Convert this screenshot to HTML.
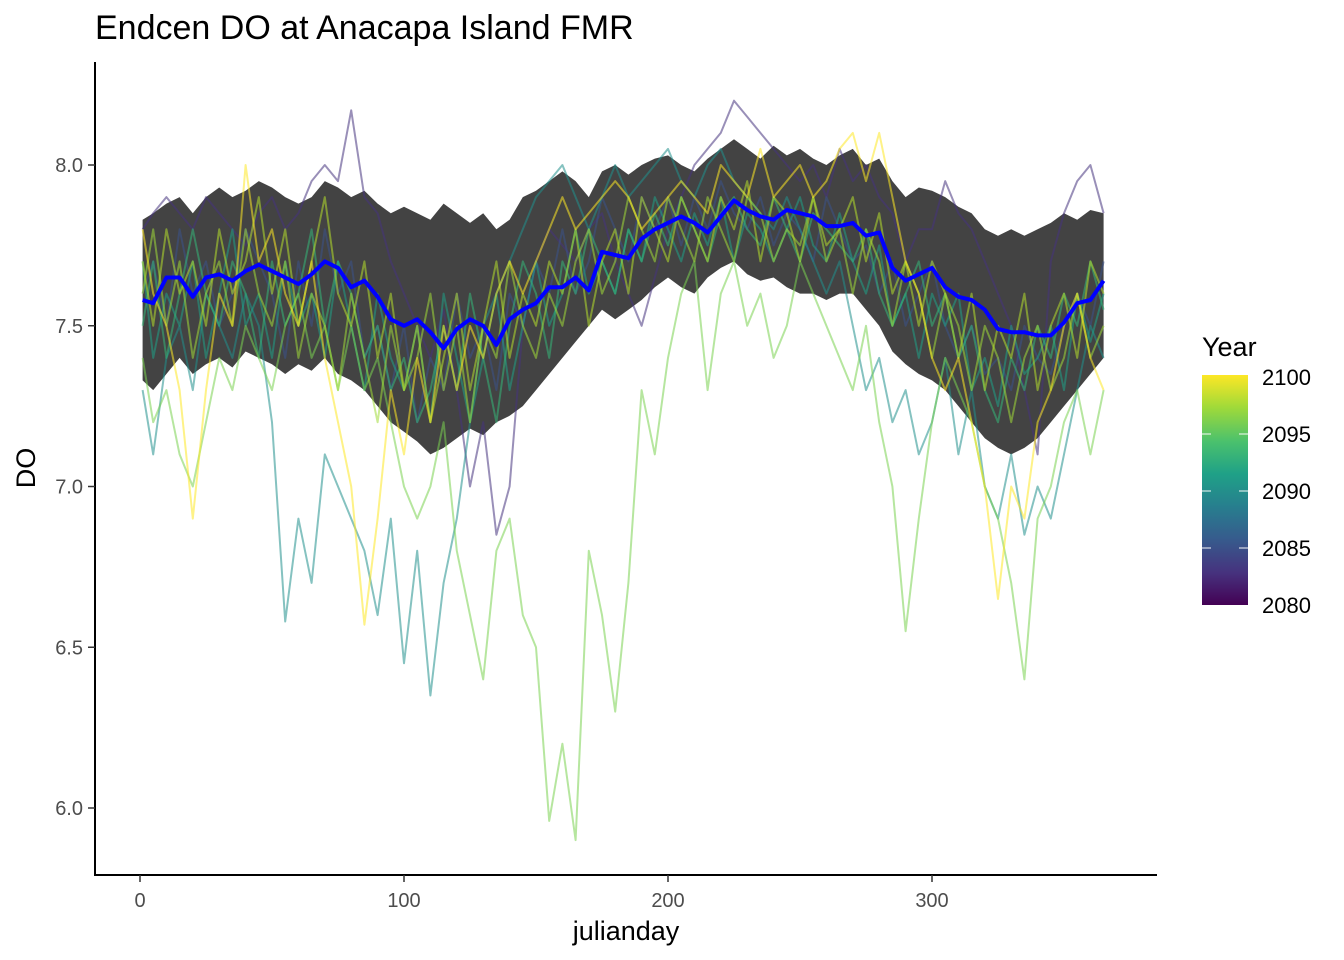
<!DOCTYPE html>
<html><head><meta charset="utf-8">
<style>
html,body{margin:0;padding:0;background:#fff;}
svg{display:block;font-family:"Liberation Sans",Arial,sans-serif;}
</style></head>
<body>
<svg id="chart" width="1344" height="960" viewBox="0 0 1344 960">
<defs>
<linearGradient id="vir" x1="0" y1="1" x2="0" y2="0">
<stop offset="0" stop-color="#440154"/><stop offset="0.14" stop-color="#46327e"/>
<stop offset="0.29" stop-color="#365c8d"/><stop offset="0.43" stop-color="#277f8e"/>
<stop offset="0.57" stop-color="#1fa187"/><stop offset="0.71" stop-color="#4ac16d"/>
<stop offset="0.86" stop-color="#a0da39"/><stop offset="1" stop-color="#fde725"/>
</linearGradient>
</defs>
<text x="95" y="39" font-size="34" fill="#000">Endcen DO at Anacapa Island FMR</text>
<g id="plot"></g>
<g id="axes"></g>
<text x="626" y="940" font-size="27" text-anchor="middle">julianday</text>
<text transform="translate(35,468) rotate(-90)" font-size="27" text-anchor="middle">DO</text>
<g>
<text x="1202" y="356" font-size="27">Year</text>
<rect x="1202" y="375" width="46" height="230" fill="url(#vir)"/>
<g stroke="#fff" stroke-width="1.2" opacity="0.8">
<line x1="1202" y1="434" x2="1211" y2="434"/><line x1="1239" y1="434" x2="1248" y2="434"/>
<line x1="1202" y1="491" x2="1211" y2="491"/><line x1="1239" y1="491" x2="1248" y2="491"/>
<line x1="1202" y1="548" x2="1211" y2="548"/><line x1="1239" y1="548" x2="1248" y2="548"/>
</g>
<g font-size="22" fill="#000">
<text x="1262" y="385">2100</text>
<text x="1262" y="442">2095</text>
<text x="1262" y="499">2090</text>
<text x="1262" y="556">2085</text>
<text x="1262" y="613">2080</text>
</g>
</g>
</svg>
<script>
const xTicks=[0,100,200,300];
const yTicks=[6.0,6.5,7.0,7.5,8.0];
const days=[1];for(let d=5;d<=365;d+=5)days.push(d);
const meanDO=[7.58,7.57,7.65,7.65,7.59,7.65,7.66,7.64,7.67,7.69,7.67,7.65,7.63,7.66,7.70,7.68,7.62,7.64,7.59,7.52,7.50,7.52,7.48,7.43,7.49,7.52,7.50,7.44,7.52,7.55,7.57,7.62,7.62,7.65,7.61,7.73,7.72,7.71,7.77,7.80,7.82,7.84,7.82,7.79,7.84,7.89,7.86,7.84,7.83,7.86,7.85,7.84,7.81,7.81,7.82,7.78,7.79,7.68,7.64,7.66,7.68,7.62,7.59,7.58,7.55,7.49,7.48,7.48,7.47,7.47,7.51,7.57,7.58,7.64];
const ribbonHi=[7.83,7.85,7.88,7.9,7.85,7.9,7.93,7.9,7.92,7.95,7.93,7.9,7.88,7.9,7.95,7.93,7.9,7.92,7.88,7.85,7.87,7.85,7.83,7.88,7.85,7.82,7.85,7.8,7.83,7.9,7.92,7.95,7.98,7.95,7.9,7.98,8.0,7.97,8.0,8.02,8.03,8.0,7.98,8.02,8.05,8.08,8.05,8.02,8.06,8.03,8.05,8.02,8.0,8.03,8.05,8.0,8.02,7.95,7.9,7.93,7.92,7.9,7.87,7.85,7.8,7.78,7.8,7.78,7.8,7.82,7.85,7.83,7.86,7.85];
const ribbonLo=[7.33,7.3,7.35,7.4,7.35,7.38,7.4,7.37,7.42,7.4,7.38,7.35,7.38,7.36,7.4,7.35,7.33,7.3,7.25,7.2,7.17,7.14,7.1,7.12,7.15,7.18,7.16,7.2,7.22,7.25,7.3,7.35,7.4,7.45,7.5,7.55,7.52,7.55,7.58,7.62,7.65,7.62,7.6,7.65,7.68,7.7,7.66,7.64,7.65,7.62,7.6,7.6,7.58,7.6,7.6,7.55,7.5,7.42,7.38,7.35,7.33,7.3,7.25,7.2,7.15,7.12,7.1,7.12,7.15,7.2,7.25,7.3,7.35,7.4];
const y2082=[7.8,7.85,7.9,7.85,7.8,7.9,7.85,7.8,7.75,7.85,7.9,7.8,7.85,7.95,8.0,7.95,8.17,7.9,7.85,7.7,7.6,7.5,7.4,7.55,7.3,7.0,7.2,6.85,7.0,7.5,7.7,7.8,7.75,7.7,7.8,7.85,7.7,7.6,7.5,7.65,7.8,7.9,8.0,8.05,8.1,8.2,8.15,8.1,8.05,8.0,7.95,8.0,7.9,8.05,7.95,8.0,7.9,7.85,7.7,7.8,7.8,7.95,7.85,7.8,7.7,7.6,7.5,7.3,7.1,7.7,7.85,7.95,8.0,7.85];
const y2086=[7.6,7.7,7.5,7.8,7.6,7.7,7.5,7.6,7.8,7.7,7.6,7.4,7.7,7.5,7.8,7.6,7.7,7.4,7.5,7.3,7.5,7.2,7.4,7.3,7.6,7.4,7.5,7.3,7.6,7.5,7.7,7.6,7.8,7.6,7.7,7.9,7.8,7.7,7.9,7.8,7.9,7.75,7.9,7.8,7.95,7.85,7.8,7.9,7.75,7.85,7.8,7.7,7.9,7.8,7.7,7.75,7.6,7.7,7.5,7.6,7.7,7.5,7.4,7.5,7.35,7.4,7.3,7.5,7.4,7.35,7.5,7.6,7.5,7.7];
const y2090=[7.3,7.1,7.4,7.5,7.3,7.6,7.5,7.4,7.6,7.5,7.2,6.58,6.9,6.7,7.1,7.0,6.9,6.8,6.6,6.9,6.45,6.8,6.35,6.7,6.9,7.2,7.5,7.6,7.7,7.8,7.9,7.95,8.0,7.9,7.8,7.9,8.0,7.9,7.95,8.0,8.05,7.95,7.9,8.0,8.05,7.95,7.9,7.85,7.8,7.9,7.8,7.7,7.6,7.7,7.5,7.3,7.4,7.2,7.3,7.1,7.2,7.4,7.1,7.3,7.0,6.9,7.1,6.85,7.0,6.9,7.1,7.3,7.5,7.4];
const y2092=[7.7,7.4,7.6,7.5,7.7,7.4,7.6,7.8,7.5,7.6,7.4,7.7,7.5,7.6,7.4,7.7,7.5,7.3,7.6,7.4,7.3,7.5,7.2,7.6,7.4,7.2,7.4,7.6,7.3,7.5,7.7,7.5,7.6,7.8,7.6,7.7,7.6,7.8,7.7,7.9,7.8,7.7,7.85,7.75,7.9,7.7,7.85,7.8,7.7,7.8,7.9,7.75,7.7,7.85,7.7,7.6,7.75,7.5,7.6,7.4,7.6,7.5,7.6,7.3,7.4,7.25,7.5,7.35,7.4,7.5,7.3,7.6,7.45,7.6];
const y2094=[7.5,7.7,7.4,7.6,7.8,7.6,7.5,7.7,7.6,7.4,7.7,7.5,7.6,7.8,7.5,7.7,7.6,7.4,7.5,7.3,7.4,7.2,7.3,7.5,7.3,7.6,7.4,7.2,7.5,7.7,7.6,7.4,7.7,7.6,7.8,7.7,7.6,7.8,7.7,7.85,7.75,7.9,7.8,7.7,7.85,7.9,7.8,7.75,7.9,7.8,7.7,7.85,7.8,7.75,7.7,7.8,7.6,7.5,7.6,7.7,7.5,7.6,7.4,7.5,7.3,7.2,7.4,7.3,7.5,7.4,7.6,7.5,7.7,7.55];
const y2097=[7.4,7.2,7.3,7.1,7.0,7.2,7.4,7.3,7.5,7.4,7.3,7.5,7.6,7.4,7.5,7.3,7.5,7.3,7.4,7.2,7.0,6.9,7.0,7.2,6.8,6.6,6.4,6.8,6.9,6.6,6.5,5.96,6.2,5.9,6.8,6.6,6.3,6.7,7.3,7.1,7.4,7.6,7.7,7.3,7.6,7.7,7.5,7.6,7.4,7.5,7.7,7.6,7.5,7.4,7.3,7.5,7.2,7.0,6.55,6.9,7.2,7.4,7.3,7.2,7.0,6.9,6.7,6.4,6.9,7.0,7.2,7.3,7.1,7.3];
const y2098=[7.6,7.8,7.5,7.7,7.4,7.6,7.7,7.5,7.8,7.6,7.5,7.7,7.4,7.6,7.5,7.3,7.6,7.4,7.2,7.5,7.3,7.4,7.6,7.3,7.5,7.2,7.5,7.4,7.7,7.5,7.4,7.6,7.5,7.7,7.8,7.6,7.7,7.9,7.8,7.7,7.9,7.8,7.7,7.9,7.8,7.7,7.9,7.85,7.7,7.8,7.75,7.9,7.7,7.8,7.6,7.8,7.7,7.5,7.7,7.6,7.4,7.6,7.5,7.3,7.5,7.4,7.2,7.4,7.5,7.3,7.4,7.6,7.4,7.5];
const y2099=[7.7,7.5,7.8,7.6,7.7,7.5,7.8,7.6,7.7,7.9,7.6,7.8,7.5,7.7,7.9,7.6,7.5,7.7,7.4,7.6,7.3,7.5,7.2,7.4,7.6,7.3,7.5,7.7,7.4,7.6,7.5,7.7,7.6,7.8,7.5,7.7,7.8,7.6,7.9,7.8,7.7,7.9,7.8,7.7,7.9,7.8,7.95,7.7,7.9,7.85,7.7,7.9,7.75,7.8,7.9,7.7,7.85,7.6,7.7,7.5,7.7,7.6,7.4,7.6,7.3,7.5,7.4,7.6,7.3,7.5,7.6,7.4,7.7,7.6];
const y2100=[7.8,7.6,7.5,7.3,6.9,7.3,7.6,7.5,8.0,7.7,7.8,7.6,7.5,7.7,7.4,7.2,7.0,6.57,6.9,7.3,7.1,7.4,7.2,7.5,7.3,7.5,7.4,7.6,7.7,7.6,7.7,7.8,7.9,7.8,7.85,7.9,7.95,7.9,7.8,7.85,7.9,7.95,7.9,7.85,8.0,7.95,7.9,8.05,7.9,7.95,8.0,7.9,7.95,8.05,8.1,7.95,8.1,7.9,7.7,7.6,7.4,7.3,7.4,7.2,7.0,6.65,7.0,6.9,7.2,7.3,7.5,7.6,7.4,7.3];

const NS='http://www.w3.org/2000/svg';
const xs=d=>140+d*2.64;
const ys=v=>165+(8.0-v)*321.5;
const plot=document.getElementById('plot');
const axes=document.getElementById('axes');
function mk(tag,attrs,parent){const e=document.createElementNS(NS,tag);for(const k in attrs)e.setAttribute(k,attrs[k]);parent.appendChild(e);return e;}

let rp='M'+days.map((d,i)=>xs(d).toFixed(1)+','+ys(ribbonHi[i]).toFixed(1)).join('L');
for(let i=days.length-1;i>=0;i--)rp+='L'+xs(days[i]).toFixed(1)+','+ys(ribbonLo[i]).toFixed(1);
rp+='Z';
const rib=mk('path',{d:rp,fill:'#333333','fill-opacity':'0.92'},plot);



const series=[[y2082,'#46337e','line-2082'],[y2086,'#3b528b','line-2086'],[y2090,'#21908d','line-2090'],[y2092,'#1fa187','line-2092'],[y2094,'#35b779','line-2094'],[y2097,'#7ad151','line-2097'],[y2098,'#a0da39','line-2098'],[y2099,'#b5de2b','line-2099'],[y2100,'#fde725','line-2100']];
series.forEach(s=>{
  const p=mk('path',{d:'M'+days.map((d,i)=>xs(d).toFixed(1)+','+ys(s[0][i]).toFixed(1)).join('L'),fill:'none',stroke:s[1],'stroke-width':'2','stroke-opacity':'0.55','stroke-linejoin':'round'},plot);
  
  
});
const ml=mk('path',{d:'M'+days.map((d,i)=>xs(d).toFixed(1)+','+ys(meanDO[i]).toFixed(1)).join('L'),fill:'none',stroke:'#0000ff','stroke-width':'4','stroke-linejoin':'round'},plot);



mk('line',{x1:95,y1:62,x2:95,y2:876,stroke:'#000','stroke-width':2},axes);
mk('line',{x1:94,y1:875,x2:1157,y2:875,stroke:'#000','stroke-width':2},axes);
xTicks.forEach(t=>{
  mk('line',{x1:xs(t),y1:875,x2:xs(t),y2:882,stroke:'#333','stroke-width':1.5},axes);
  const tx=mk('text',{x:xs(t),y:907,'font-size':20,fill:'#4d4d4d','text-anchor':'middle'},axes);
  tx.textContent=t;
  
  
});
yTicks.forEach(t=>{
  mk('line',{x1:88,y1:ys(t),x2:95,y2:ys(t),stroke:'#333','stroke-width':1.5},axes);
  const tx=mk('text',{x:83,y:ys(t)+7,'font-size':20,fill:'#4d4d4d','text-anchor':'end'},axes);
  tx.textContent=t.toFixed(1);
  
  
});
</script>
</body></html>
